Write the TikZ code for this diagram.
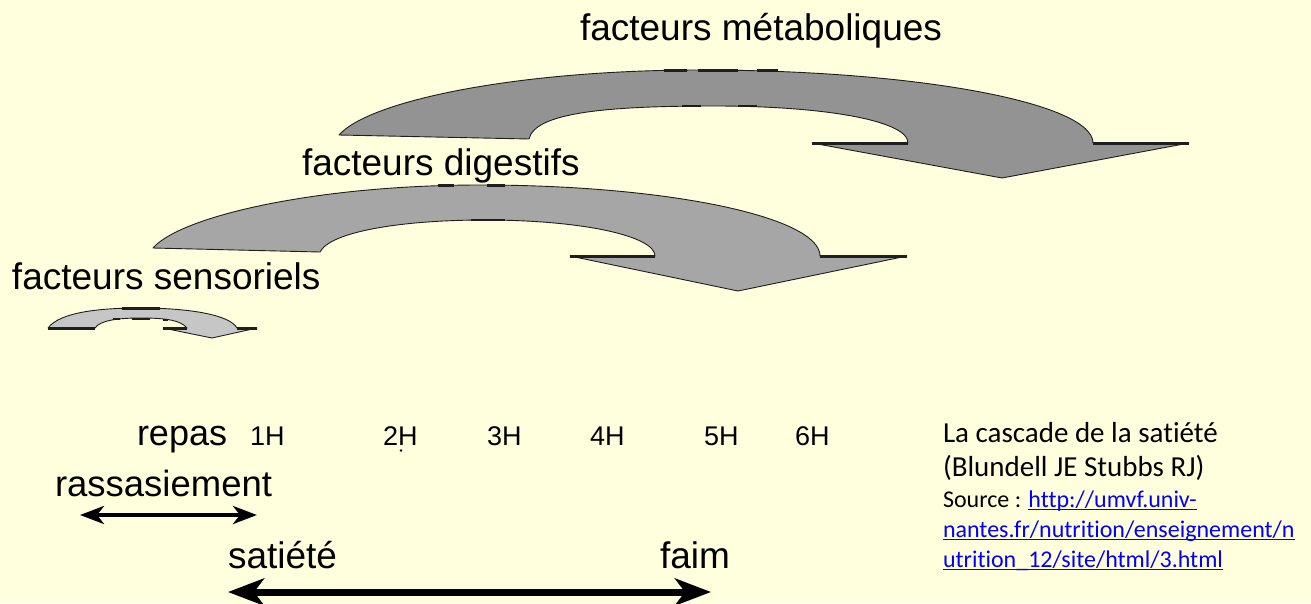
\documentclass[tikz,border=0pt]{standalone}
\usepackage{fontspec}
\setmainfont{Liberation Sans}
\newfontfamily\carlito[Ligatures=NoCommon]{Carlito}
\usetikzlibrary{arrows.meta}
\definecolor{bg}{HTML}{FFFFDD}
\definecolor{metab}{HTML}{939393}
\definecolor{digest}{HTML}{A6A6A6}
\definecolor{senso}{HTML}{C6C6C6}
\definecolor{edgec}{HTML}{1E1E1E}
\definecolor{linkblue}{HTML}{0000FF}
\newcommand\linkul[1]{\setbox0\hbox{#1}\rlap{\rule[-3.4pt]{\wd0}{1.6pt}}\box0}
\begin{document}
\begin{tikzpicture}[x=1pt,y=-1pt,
  band/.style={draw=edgec, line width=0.9pt, line join=round},
  flat/.style={draw=edgec, line width=3pt},
  tick/.style={draw=edgec, line width=2.6pt},
  lbl/.style={anchor=base west, inner sep=0pt, outer sep=0pt, font=\fontsize{37}{44}\selectfont, text=black},
  hour/.style={anchor=base west, inner sep=0pt, outer sep=0pt, font=\fontsize{27}{32}\selectfont, text=black},
  big/.style={anchor=base west, inner sep=0pt, outer sep=0pt, font=\carlito\fontsize{29}{35}\selectfont, text=black},
  small/.style={anchor=base west, inner sep=0pt, outer sep=0pt, font=\carlito\fontsize{24}{29}\selectfont, text=black},
  dblthin/.style={line width=4pt, black, {Stealth[length=24pt,width=18pt,inset=7pt]}-{Stealth[length=24pt,width=18pt,inset=7pt]}},
  dblthick/.style={line width=7pt, black, {Stealth[length=36pt,width=27pt,inset=10pt]}-{Stealth[length=36pt,width=27pt,inset=10pt]}}
]
\useasboundingbox (0,0) rectangle (1311,603);
\fill[bg] (0,0) rectangle (1311,603);

% metabolic band
\path[band, fill=metab] (339,135) .. controls (370,100) and (520,70) .. (700,70)
  .. controls (917,70) and (1093,103) .. (1093,143)
  -- (1189,143) -- (1002,178) -- (812,143) -- (908,143)
  .. controls (908,120) and (821,106) .. (715,106)
  .. controls (610,106) and (535,112) .. (529,139) -- cycle;
\draw[flat] (812,143) -- (908,143);
\draw[flat] (1093,143) -- (1189,143);
\draw[tick] (664,70.5) -- (687,70.5) (698,70.5) -- (738,70.5) (757,70.5) -- (778,70.5);
\draw[tick] (682,106) -- (701,106) (738,106) -- (757,106);

% digestive band
\path[band, fill=digest] (153,248) .. controls (181,216) and (317,185) .. (480,185)
  .. controls (668,185) and (820,217) .. (820,256)
  -- (907,256) -- (738,291) -- (570,256) -- (655,256)
  .. controls (655,236) and (582,220) .. (485,220)
  .. controls (400,220) and (330,232) .. (320,252) -- cycle;
\draw[flat] (570,256) -- (655,256);
\draw[flat] (820,256) -- (907,256);
\draw[tick] (438,185.5) -- (454,185.5) (487,185.5) -- (505,185.5);
\draw[tick] (471,220) -- (505,220);

% sensorial band
\path[band, fill=senso] (48,328) .. controls (60,312) and (100,308) .. (140,308)
  .. controls (190,308) and (230,315) .. (237,328)
  -- (257,328) -- (212,338) -- (163,328) -- (187,328)
  .. controls (180,319) and (160,318) .. (140,318)
  .. controls (120,318) and (100,320) .. (95,328) -- cycle;
\draw[flat] (48,328) -- (95,328);
\draw[flat] (163,328) -- (187,328);
\draw[flat] (237,328) -- (257,328);
\draw[tick] (122,308.5) -- (160,308.5);
\draw[tick] (113,319) -- (120,319) (132,319) -- (150,319) (163,320) -- (168,320);

% labels
\node[lbl] (met) at (580,40) {facteurs métaboliques};
\node[lbl] (dig) at (302,175) {facteurs digestifs};
\node[lbl] (sen) at (12,289) {facteurs sensoriels};

\node[lbl, font=\fontsize{36}{43}\selectfont] (repas) at (137,445) {repas};
\node[hour] (h1) at (250,445) {1H};
\node[hour] (h2) at (383,445) {2H};
\fill[black] (401,450.5) circle (1.3);
\node[hour] (h3) at (487,445) {3H};
\node[hour] (h4) at (590,445) {4H};
\node[hour] (h5) at (704,445) {5H};
\node[hour] (h6) at (795,445) {6H};

\node[lbl, font=\fontsize{36.5}{43}\selectfont] (rass) at (55,496) {rassasiement};
\coordinate (rL) at (80,515);
\coordinate (rR) at (257,515);
\draw[dblthin] (rL) -- (rR);

\node[lbl] (sat) at (228,568) {satiété};
\node[lbl] (faim) at (660,568) {faim};
\coordinate (sL) at (228,592);
\coordinate (sR) at (711,592);
\draw[dblthick] (sL) -- (sR);

% source block
\node[big] (t1) at (943,442) {La cascade de la satiété};
\node[big] (t2) at (943,476) {(Blundell JE Stubbs RJ)};
\node[small] (t3) at (943,507) {Source : \textcolor{linkblue}{\linkul{http://umvf.univ-}}};
\node[small] (t4) at (943,537) {\textcolor{linkblue}{\linkul{nantes.fr/nutrition/enseignement/n}}};
\node[small] (t5) at (943,567) {\textcolor{linkblue}{\linkul{utrition\_12/site/html/3.html}}};
\end{tikzpicture}
\end{document}
